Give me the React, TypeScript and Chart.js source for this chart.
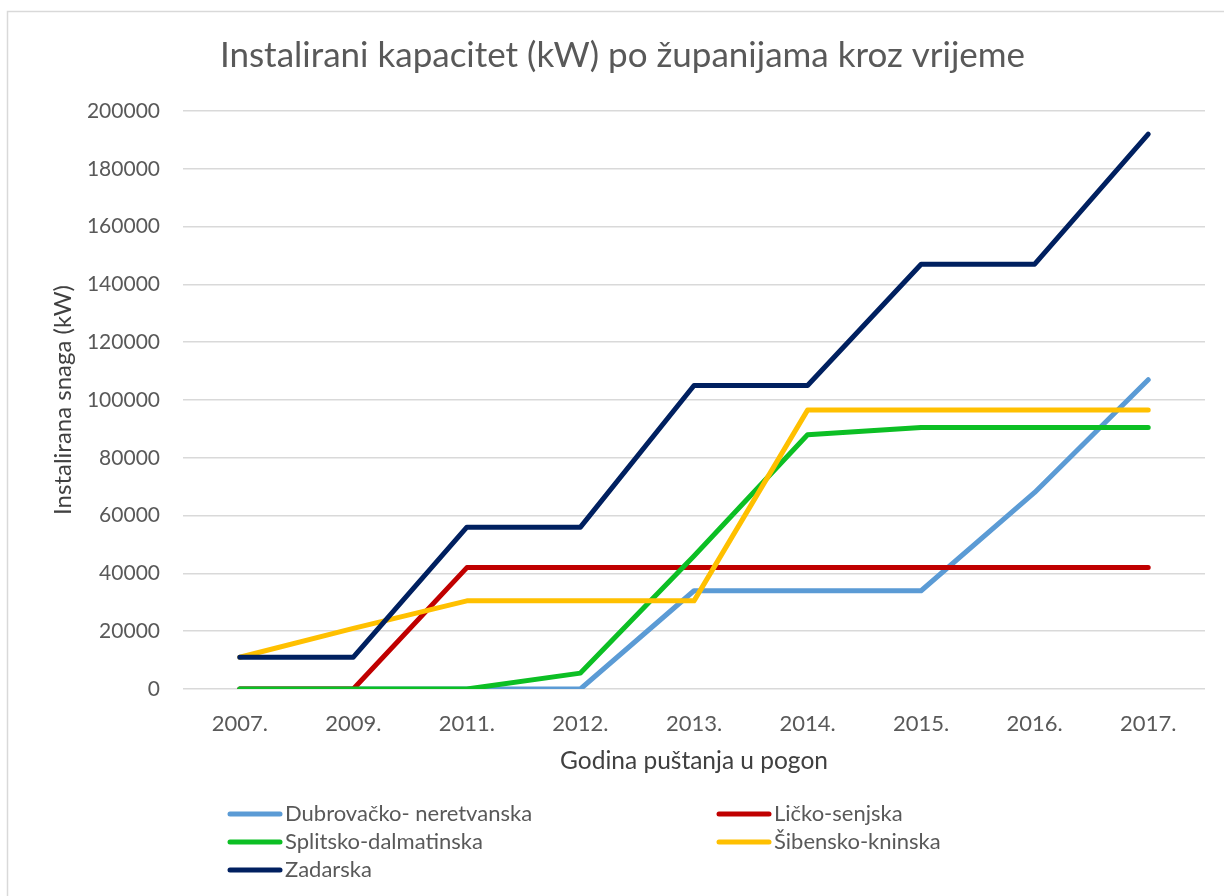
import React, { useEffect, useRef } from "react";
import { Chart, registerables } from "chart.js";

Chart.register(...registerables);

const categories = ["2007.", "2009.", "2011.", "2012.", "2013.", "2014.", "2015.", "2016.", "2017."];
const dubrovacko = [0, 0, 0, 0, 34000, 34000, 34000, 68000, 107000];
const licko = [0, 0, 42000, 42000, 42000, 42000, 42000, 42000, 42000];
const splitsko = [0, 0, 0, 5500, 46000, 88000, 90500, 90500, 90500];
const sibensko = [11000, 21000, 30500, 30500, 30500, 96500, 96500, 96500, 96500];
const zadarska = [11000, 11000, 56000, 56000, 105000, 105000, 147000, 147000, 192000];

const seriesNames = ["Dubrovačko- neretvanska", "Ličko-senjska", "Splitsko-dalmatinska", "Šibensko-kninska", "Zadarska"];
const seriesColors = ["#5B9BD5", "#C00000", "#0CBF24", "#FFC000", "#002060"];
const seriesData = [dubrovacko, licko, splitsko, sibensko, zadarska];

const TITLE = "Instalirani kapacitet (kW) po županijama kroz vrijeme";
const X_TITLE = "Godina puštanja u pogon";
const Y_TITLE = "Instalirana snaga (kW)";
const FONT = "Lato, 'Open Sans', sans-serif";
const TEXT = "#595959";

const framePlugin = {
  id: "frame",
  beforeDraw(chart: any) {
    const ctx = chart.ctx;
    ctx.save();
    ctx.fillStyle = "#ffffff";
    ctx.fillRect(0, 0, chart.width, chart.height);
    ctx.strokeStyle = "#d9d9d9";
    ctx.lineWidth = 1.5;
    ctx.strokeRect(7.5, 11.5, chart.width + 20, chart.height + 20);
    ctx.restore();
  },
};

const legendPlugin = {
  id: "customLegend",
  afterDraw(chart: any) {
    const ctx = chart.ctx;
    ctx.save();
    const cols = [228, 717];
    const rowY0 = 814;
    const rowH = 28;
    seriesNames.forEach((name, i) => {
      const x = cols[i % 2];
      const y = rowY0 + Math.floor(i / 2) * rowH;
      ctx.strokeStyle = seriesColors[i];
      ctx.lineWidth = 5;
      ctx.lineCap = "round";
      ctx.beginPath();
      ctx.moveTo(x + 2, y);
      ctx.lineTo(x + 52, y);
      ctx.stroke();
      ctx.fillStyle = TEXT;
      ctx.font = `22px ${FONT}`;
      ctx.textBaseline = "middle";
      ctx.textAlign = "left";
      ctx.fillText(name, x + 57, y);
    });
    ctx.restore();
  },
};

export default function App() {
  const ref = useRef<HTMLCanvasElement>(null);
  useEffect(() => {
    document.body.style.margin = "0";
    const canvas = ref.current!;
    const chart = new Chart(canvas, {
      type: "line",
      data: {
        labels: categories,
        datasets: seriesData.map((d, i) => ({
          label: seriesNames[i],
          data: d,
          borderColor: seriesColors[i],
          backgroundColor: seriesColors[i],
          borderWidth: 5,
          pointRadius: 0,
          tension: 0,
          borderCapStyle: "round" as const,
          borderJoinStyle: "round" as const,
          order: seriesData.length - 1 - i,
        })),
      },
      options: {
        responsive: false,
        animation: false,
        layout: { padding: { left: 40, right: 19, top: 0, bottom: 100 } },
        plugins: {
          legend: { display: false },
          tooltip: { enabled: false },
          title: {
            display: true,
            text: TITLE,
            color: TEXT,
            font: { family: FONT, size: 35, weight: "normal" },
            padding: { top: 35, bottom: 34 },
          },
        },
        scales: {
          x: {
            offset: true,
            grid: { display: false, drawTicks: false, offset: true },
            border: { display: false },
            ticks: { color: TEXT, font: { family: FONT, size: 22 }, padding: 22, maxRotation: 0 },
            title: {
              display: true,
              text: X_TITLE,
              color: "#404040",
              font: { family: FONT, size: 24.5 },
              padding: { top: 0, bottom: 20 },
            },
            afterFit(scale: any) {
              scale.height = 107;
            },
          },
          y: {
            min: 0,
            max: 200000,
            grid: { color: "#d9d9d9", lineWidth: 1.5, drawTicks: false },
            border: { display: false },
            ticks: {
              stepSize: 20000,
              color: TEXT,
              font: { family: FONT, size: 21 },
              padding: 23,
              callback: (v: any) => String(v),
            },
            title: {
              display: true,
              text: Y_TITLE,
              color: "#404040",
              font: { family: FONT, size: 24 },
              padding: { top: 9, bottom: 0 },
            },
            afterFit(scale: any) {
              scale.width = 143;
            },
          },
        },
      },
      plugins: [framePlugin, legendPlugin],
    });
    return () => chart.destroy();
  }, []);
  return <canvas ref={ref} width={1224} height={896} style={{ display: "block", width: 1224, height: 896 }} />;
}
